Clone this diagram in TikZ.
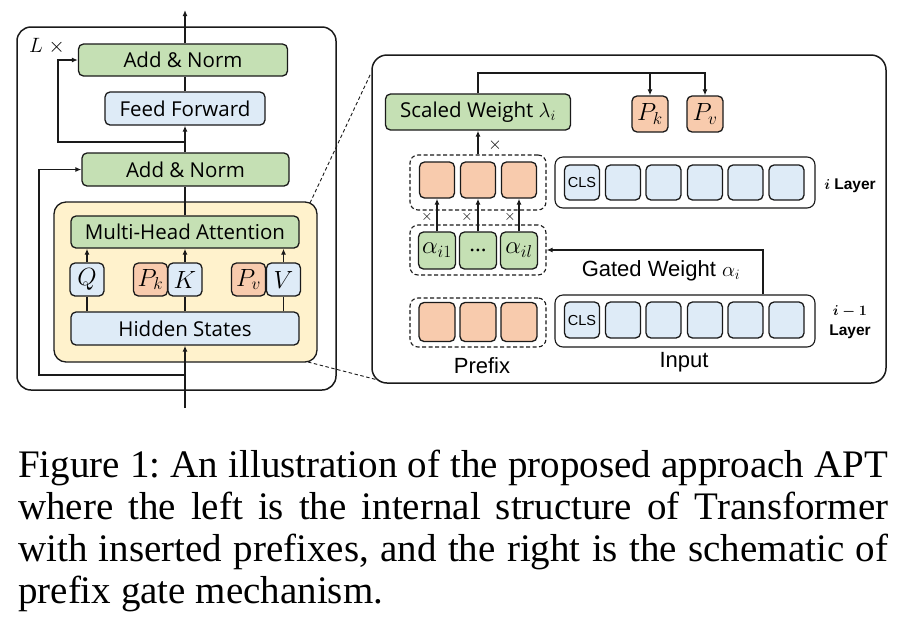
\documentclass[tikz,border=0pt]{standalone}
\usepackage{amsmath}
\usepackage{fontspec}
\setmainfont{Liberation Serif}
\newfontfamily\dfont{Open Sans}
\newfontfamily\afont{Liberation Sans}
\usetikzlibrary{arrows.meta}
\definecolor{gfill}{HTML}{C5E0B4}
\definecolor{bfill}{HTML}{DEEBF7}
\definecolor{ofill}{HTML}{F8CBAD}
\definecolor{yfill}{HTML}{FFF2CC}
\definecolor{edge}{HTML}{1A1A1A}
\frenchspacing
\tikzset{
  box/.style={draw=edge, line width=1.3pt, rounded corners=5pt, inner sep=0pt, font=\dfont\fontsize{20.5}{22}\selectfont},
  gbox/.style={box, fill=gfill},
  bbox/.style={box, fill=bfill},
  obox/.style={box, fill=ofill},
  panel/.style={draw=edge, line width=1.5pt},
  grp/.style={draw=edge, line width=1.1pt, dashed, dash pattern=on 4pt off 2.5pt, rounded corners=8pt, inner sep=0pt},
  sgrp/.style={draw=edge, line width=1.1pt, rounded corners=8pt, inner sep=0pt},
  conn/.style={draw=edge, line width=1.2pt},
  arr/.style={conn, -{Latex[length=6pt,width=5pt]}},
  lbl/.style={inner sep=0pt, font=\afont\fontsize{22}{24}\selectfont},
  captxt/.style={inner sep=0pt, anchor=base west, font=\fontsize{39}{42}\selectfont},
  mth/.style={font=\fontsize{23}{24}\selectfont},
  cls/.style={font=\afont\fontsize{14.5}{15}\selectfont},
  tim/.style={inner sep=0pt, font=\fontsize{14}{14}\selectfont},
  lay/.style={inner sep=0pt, font=\afont\bfseries\fontsize{15.5}{17}\selectfont}
}
\begin{document}
\begin{tikzpicture}[x=1pt,y=-1pt]
\useasboundingbox[fill=white] (0,0) rectangle (902,633);

% ---------- left panel ----------
\draw[panel, rounded corners=14pt] (17,27) rectangle (336,390);
\node[draw=edge, line width=1.3pt, fill=yfill, rounded corners=12pt, minimum width=263, minimum height=160, inner sep=0pt] (yel) at (185.5,282) {};

\node[gbox, minimum width=209, minimum height=32] (an1) at (183,60) {Add \& Norm};
\node[bbox, minimum width=160, minimum height=33] (ff) at (185,108.5) {Feed Forward};
\node[gbox, minimum width=207, minimum height=33] (an2) at (185.5,169.5) {Add \& Norm};
\node[gbox, minimum width=228, minimum height=32] (mha) at (185,232) {Multi-Head Attention};
\node[bbox, minimum width=34, minimum height=33, mth] (q) at (87,279.5) {$Q$};
\node[obox, minimum width=34, minimum height=33, mth] (pk) at (150.5,279.5) {$P_k$};
\node[bbox, minimum width=34, minimum height=33, mth] (k) at (185,279.5) {$K$};
\node[obox, minimum width=34, minimum height=33, mth] (pv) at (248.5,279.5) {$P_v$};
\node[bbox, minimum width=34, minimum height=33, mth] (v) at (283.5,279.5) {$V$};
\node[bbox, minimum width=228, minimum height=33] (hs) at (185,328.5) {Hidden States};

\node[inner sep=0pt, font=\fontsize{20}{22}\selectfont] (lx) at (47,46) {$L\;\times$};

\coordinate (topout) at (185,10);
\coordinate (botin) at (185,408);
\coordinate (j1) at (185,142);
\coordinate (r1) at (58,142);
\coordinate (j2) at (185,375);
\coordinate (r2) at (39,375);

\draw[arr] (an1.north -| topout) -- (topout);
\draw[conn] (ff.north) -- (ff.north |- an1.south);
\draw[arr] (an2.north -| ff.south) -- (ff.south);
\draw[arr] (j1) -- (r1) |- (an1.west);
\draw[conn] (mha.north) -- (mha.north |- an2.south);
\draw[arr] (j2) -- (r2) |- (an2.west);
\draw[arr] (botin) -- (hs.south);
\draw[conn] (hs.north -| q) -- (q.south);
\draw[conn] (hs.north -| k) -- (k.south);
\draw[conn] (hs.north -| v) -- (v.south);
\draw[arr] (q.north) -- (mha.south -| q);
\draw[arr] (k.north) -- (mha.south -| k);
\draw[arr] (v.north) -- (mha.south -| v);

% ---------- zoom lines ----------
\coordinate (z1) at (371,73);
\coordinate (z2) at (378,380);
\draw[edge, line width=0.9pt, dash pattern=on 3.5pt off 2.5pt] (310,203) -- (z1);
\draw[edge, line width=0.9pt, dash pattern=on 3.5pt off 2.5pt] (308,362) -- (z2);

% ---------- right panel ----------
\draw[panel, rounded corners=15pt] (372,55) rectangle (886,383);

\node[gbox, minimum width=185, minimum height=36] (sw) at (478,112) {Scaled Weight {\fontsize{22}{22}\selectfont$\lambda_i$}};
\node[obox, minimum width=36, minimum height=36, mth] (pk2) at (650,114) {$P_k$};
\node[obox, minimum width=36, minimum height=36, mth] (pv2) at (705,114) {$P_v$};
\coordinate (tl) at (478,73);
\coordinate (tm) at (650,73);
\coordinate (tr) at (705,73);
\draw[arr] (sw.north) -- (tl) -- (tr) -- (pv2.north);
\draw[arr] (tm) -- (pk2.north);

% i layer
\node[grp, minimum width=136, minimum height=55] (pg1) at (478,182.5) {};
\node[obox, minimum width=35, minimum height=36] (p1) at (437,180) {};
\node[obox, minimum width=35, minimum height=36] (p2) at (478,180) {};
\node[obox, minimum width=35, minimum height=36] (p3) at (519,180) {};
\draw[arr] (pg1.north) -- (sw.south);
\node[inner sep=0pt, font=\fontsize{19}{20}\selectfont] (xm) at (495,145) {$\times$};

\node[sgrp, minimum width=260, minimum height=51] (ig1) at (685,182.5) {};
\node[bbox, minimum width=35, minimum height=35, cls] (c1) at (582,182.5) {CLS};
\node[bbox, minimum width=35, minimum height=35] (c2) at (623,182.5) {};
\node[bbox, minimum width=35, minimum height=35] (c3) at (663.5,182.5) {};
\node[bbox, minimum width=35, minimum height=35] (c4) at (705,182.5) {};
\node[bbox, minimum width=35, minimum height=35] (c5) at (745.5,182.5) {};
\node[bbox, minimum width=35, minimum height=35] (c6) at (786.5,182.5) {};
\node[lay] (li) at (850,186) {$\boldsymbol{i}$ Layer};

% alpha
\node[grp, minimum width=136, minimum height=50] (ag) at (478,250) {};
\node[gbox, minimum width=37, minimum height=37, mth] (a1) at (437,250.5) {$\alpha_{i1}$};
\node[gbox, minimum width=37, minimum height=37, mth] (a2) at (478,250.5) {...};
\node[gbox, minimum width=37, minimum height=37, mth] (a3) at (519,250.5) {$\alpha_{il}$};
\draw[arr] (a1.north) -- (p1.south);
\draw[arr] (a2.north) -- (p2.south);
\draw[arr] (a3.north) -- (p3.south);
\node[tim] (x1) at (427,217) {$\times$};
\node[tim] (x2) at (467,217) {$\times$};
\node[tim] (x3) at (510,217) {$\times$};

% i-1 layer
\node[grp, minimum width=136, minimum height=49] (pg0) at (478,322.5) {};
\node[obox, minimum width=36, minimum height=39] (q1) at (437,322) {};
\node[obox, minimum width=36, minimum height=39] (q2) at (478,322) {};
\node[obox, minimum width=36, minimum height=39] (q3) at (519,322) {};
\node[sgrp, minimum width=260, minimum height=52] (ig0) at (685,321) {};
\node[bbox, minimum width=35, minimum height=36, cls] (d1) at (582,320) {CLS};
\node[bbox, minimum width=35, minimum height=36] (d2) at (623,320) {};
\node[bbox, minimum width=35, minimum height=36] (d3) at (663.5,320) {};
\node[bbox, minimum width=35, minimum height=36] (d4) at (705,320) {};
\node[bbox, minimum width=35, minimum height=36] (d5) at (745.5,320) {};
\node[bbox, minimum width=35, minimum height=36] (d6) at (786.5,320) {};
\node[lay] (lj) at (850,311) {$\boldsymbol{i-1}$};
\node[lay] (lk) at (850,332) {Layer};

\coordinate (gw) at (763,250);
\draw[arr] (gw |- ig0.north) -- (gw) -- (ag.east);
\node[lbl] (gwl) at (661,271) {Gated Weight {\fontsize{22}{22}\selectfont$\alpha_i$}};
\node[lbl] (pre) at (482,366) {Prefix};
\node[lbl] (inp) at (684,362) {Input};

% ---------- caption ----------
\node[captxt] (c1l) at (18,477) {\makebox[870pt][s]{Figure 1: An illustration of the proposed approach APT}};
\node[captxt] (c2l) at (18,519) {\makebox[870pt][s]{where the left is the internal structure of Transformer}};
\node[captxt] (c3l) at (18,561) {\makebox[870pt][s]{with inserted prefixes, and the right is the schematic of}};
\node[captxt] (c4l) at (18,603) {prefix gate mechanism.};
\end{tikzpicture}
\end{document}
